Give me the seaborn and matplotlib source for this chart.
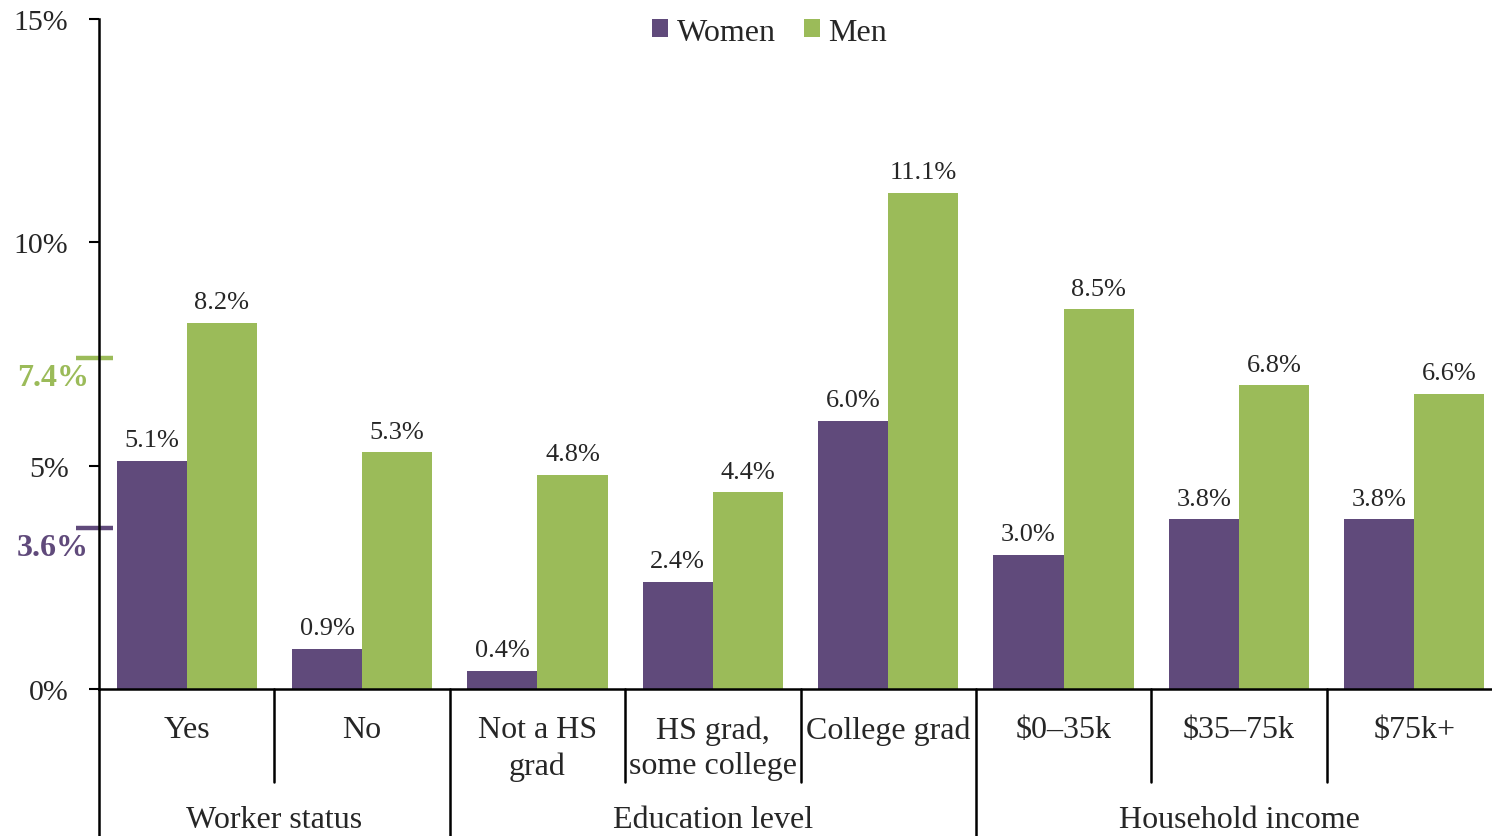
import numpy as np
import pandas as pd
import matplotlib.pyplot as plt
import seaborn as sns
from matplotlib.ticker import FuncFormatter

# Data
categories = ['Yes', 'No', 'Not a HS\ngrad', 'HS grad,\nsome college', 'College grad',
              '\\$0\u201335k', '\\$35\u201375k', '\\$75k+']
women = [5.1, 0.9, 0.4, 2.4, 6.0, 3.0, 3.8, 3.8]
men = [8.2, 5.3, 4.8, 4.4, 11.1, 8.5, 6.8, 6.6]
groups = ['Worker status', 'Education level', 'Household income']
group_sizes = [2, 3, 3]
avg_women = 3.6
avg_men = 7.4

purple = '#604A7B'
green = '#9BBB59'

df = pd.DataFrame({
    'cat': categories * 2,
    'val': women + men,
    'sex': ['Women'] * len(categories) + ['Men'] * len(categories),
})

sns.set_style('white')
plt.rcParams['font.family'] = ['Liberation Serif', 'DejaVu Serif']

fig = plt.figure(figsize=(14.92, 8.37), dpi=100)
# axes run a little past the right edge of the figure, like the original
ax = fig.add_axes([99 / 1492, 147 / 837, 1403 / 1492, 670 / 837])

sns.barplot(data=df, x='cat', y='val', hue='sex', palette=[purple, green],
            width=0.8, saturation=1, ax=ax, edgecolor='none')

for cont in ax.containers:
    ax.bar_label(cont, labels=[f'{v:.1f}%' for v in cont.datavalues],
                 padding=7, fontsize=19)

ax.set_ylim(0, 15)
ax.set_xlim(-0.5, len(categories) - 0.5)
ax.set_yticks([0, 5, 10, 15])
ax.yaxis.set_major_formatter(FuncFormatter(lambda v, p: f'{v:.0f}%'))
ax.set_xlabel('')
ax.set_ylabel('')
ax.tick_params(axis='y', length=7, width=1.5, pad=15, labelsize=21.5, left=True, color='black')
ax.tick_params(axis='x', length=0, pad=19, labelsize=23)
for lab in ax.get_xticklabels():
    lab.set_linespacing(1.3)

for s in ['top', 'right']:
    ax.spines[s].set_visible(False)
for s in ['left', 'bottom']:
    ax.spines[s].set_color('black')
    ax.spines[s].set_linewidth(1.8)

# separators below axis
xt = ax.get_xaxis_transform()
bounds = np.cumsum([0] + group_sizes)
for i in range(1, len(categories)):
    if i not in bounds:
        ax.plot([i - 0.5, i - 0.5], [0, -0.139], transform=xt, color='black', lw=1.8, clip_on=False)
for b in bounds[:-1]:
    ax.plot([b - 0.5, b - 0.5], [0, -0.25], transform=xt, color='black', lw=1.8, clip_on=False)
for g, a, b in zip(groups, bounds[:-1], bounds[1:]):
    ax.text((a + b - 1) / 2, -0.195, g, transform=xt, ha='center', va='center', fontsize=23)

# average markers on the y axis
yt = ax.get_yaxis_transform()
for val, col in [(avg_men, green), (avg_women, purple)]:
    ax.plot([-0.0164, 0.010], [val, val], transform=yt, color=col, lw=3.2,
            solid_capstyle='butt', clip_on=False)
    ax.annotate(f'{val:.1f}%', xy=(-0.0328, val), xycoords=yt, xytext=(0, -14),
                textcoords='offset points', ha='center', va='center',
                fontsize=23, fontweight='bold', color=col, annotation_clip=False)

ax.legend(loc='upper center', bbox_to_anchor=(0.478, 1.045), ncol=2, frameon=False,
          fontsize=23, handlelength=0.5, handleheight=0.5, handletextpad=0.25,
          columnspacing=0.9)

fig.savefig('out.png', dpi=100)
